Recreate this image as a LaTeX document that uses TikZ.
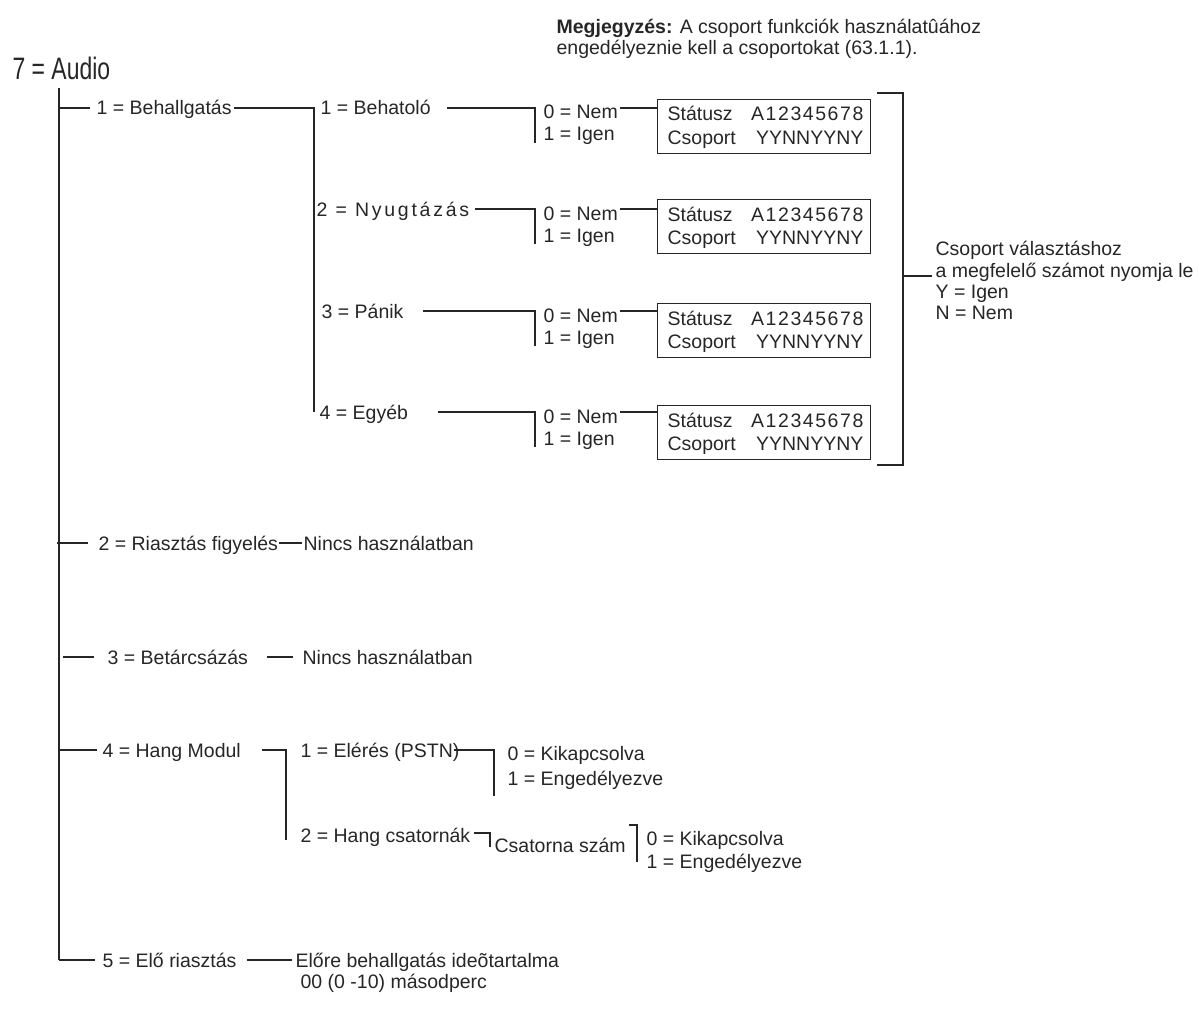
\documentclass[tikz,border=0pt]{standalone}
\usepackage{fontspec}
\setmainfont{Liberation Sans}
\newfontfamily\titlefont{Liberation Sans}[FakeStretch=0.74]
\newfontfamily\spacedfont{Liberation Sans}[LetterSpace=14]
\newfontfamily\digitfont{Liberation Sans}[LetterSpace=8]
\definecolor{ink}{HTML}{262626}
\begin{document}
\begin{tikzpicture}[x=1pt,y=-1pt,
  line width=1.2pt, draw=ink,
  every node/.style={inner sep=0pt, anchor=base west, text=ink,
    font=\fontsize{19.5}{22}\selectfont},
  titletext/.style={font=\titlefont\fontsize{31}{34}\selectfont},
  valbox/.style={draw=ink, line width=1.2pt, anchor=north west,
    minimum width=213pt, minimum height=54pt},
  rtext/.style={anchor=base east}]
\useasboundingbox (0,0) rectangle (1199,1014);

% title and note
\node[titletext] (audio) at (12,80) {7 = Audio};
\node (note1) at (556,34) {\textbf{Megjegyzés:} A csoport funkciók használatûához};
\node (note2) at (556,55) {engedélyeznie kell a csoportokat (63.1.1).};

% main trunk
\coordinate (m0) at (59,88);
\coordinate (m5) at (59,960);
\draw (m0) -- (m5);

% ---- 1 = Behallgatás
\coordinate (r1a) at (59,108);
\coordinate (r1b) at (90,108);
\node (beh) at (96,115) {1 = Behallgatás};
\coordinate (r1c) at (234,108);
\coordinate (v1t) at (314,108);
\coordinate (v1b) at (314,412);
\draw (r1a) -- (r1b);
\draw (r1c) -- (v1t) -- (v1b);

\foreach \L/\B/\lab/\lx/\ls/\i in {108/99/{1 = Behatoló}/320/447/1,
                                   209/199/{\spacedfont 2 = Nyugtázás}/316/475/2,
                                   311/303/{3 = Pánik}/321/423/3,
                                   412/405/{4 = Egyéb}/319/438/4}{
  \node (sub\i) at (\lx,\L+7) {\lab};
  \coordinate (sl\i) at (\ls,\L);
  \coordinate (jt\i) at (535,\L);
  \coordinate (jb\i) at (535,\L+35);
  \draw (sl\i) -- (jt\i) -- (jb\i);
  \node (nem\i) at (543,\L+11) {0 = Nem};
  \node (igen\i) at (543,\L+33) {1 = Igen};
  \node[valbox] (box\i) at (657,\B) {};
  \coordinate (nl\i) at (620,\L);
  \draw (nl\i) -- (box\i.west |- nl\i);
  \node (st\i) at (667,\B+22) {Státusz};
  \node[rtext] (num\i) at (864,\B+22) {\digitfont A12345678};
  \node (cs\i) at (667,\B+45) {Csoport};
  \node[rtext] (yn\i) at (864,\B+45) {YYNNYYNY};
}

% right bracket
\coordinate (bt0) at (877,93);
\coordinate (bt1) at (903,93);
\coordinate (bb1) at (903,465);
\coordinate (bb0) at (877,465);
\draw (bt0) -- (bt1) -- (bb1) -- (bb0);
\coordinate (bm0) at (903,276);
\coordinate (bm1) at (932,276);
\draw (bm0) -- (bm1);
\node (h1) at (935,255) {Csoport választáshoz};
\node (h2) at (935,277) {a megfelelő számot nyomja le};
\node (h3) at (935,298) {Y = Igen};
\node (h4) at (935,319) {N = Nem};

% ---- 2 = Riasztás figyelés
\coordinate (r2a) at (57,543);
\coordinate (r2b) at (88,543);
\draw (r2a) -- (r2b);
\node (rf) at (98,550) {2 = Riasztás figyelés};
\coordinate (r2c) at (279,543);
\coordinate (r2d) at (302,543);
\draw (r2c) -- (r2d);
\node (rfn) at (303,550) {Nincs használatban};

% ---- 3 = Betárcsázás
\coordinate (r3a) at (63,657);
\coordinate (r3b) at (94,657);
\draw (r3a) -- (r3b);
\node (bt) at (107,664) {3 = Betárcsázás};
\coordinate (r3c) at (267,657);
\coordinate (r3d) at (293,657);
\draw (r3c) -- (r3d);
\node (btn) at (302,664) {Nincs használatban};

% ---- 4 = Hang Modul
\coordinate (r4a) at (59,750);
\coordinate (r4b) at (97,750);
\draw (r4a) -- (r4b);
\node (hm) at (102,757) {4 = Hang Modul};
\coordinate (r4c) at (262,750);
\coordinate (h4t) at (286,750);
\coordinate (h4b) at (286,840);
\draw (r4c) -- (h4t) -- (h4b);
\node (pstn) at (300,757) {1 = Elérés (PSTN)};
\coordinate (p0) at (454,750);
\coordinate (p1) at (494,750);
\coordinate (p2) at (494,796);
\draw (p0) -- (p1) -- (p2);
\node (pk) at (507,760) {0 = Kikapcsolva};
\node (pe) at (507,785) {1 = Engedélyezve};
\node (hc) at (300,842) {2 = Hang csatornák};
\coordinate (c0) at (474,833);
\coordinate (c1) at (490,833);
\coordinate (c2) at (490,847);
\draw (c0) -- (c1) -- (c2);
\node (csz) at (494,852) {Csatorna szám};
\coordinate (k0) at (629,825);
\coordinate (k1) at (637,825);
\coordinate (k2) at (637,862);
\draw (k0) -- (k1) -- (k2);
\node (ck) at (646,845) {0 = Kikapcsolva};
\node (ce) at (646,868) {1 = Engedélyezve};

% ---- 5 = Elő riasztás
\coordinate (r5b) at (95,960);
\draw (m5) -- (r5b);
\node (er) at (102,967) {5 = Elő riasztás};
\coordinate (r5c) at (247,960);
\coordinate (r5d) at (292,960);
\draw (r5c) -- (r5d);
\node (eb1) at (295,967) {Előre behallgatás ideõtartalma};
\node (eb2) at (300,988) {00 (0 -10) másodperc};
\end{tikzpicture}
\end{document}
